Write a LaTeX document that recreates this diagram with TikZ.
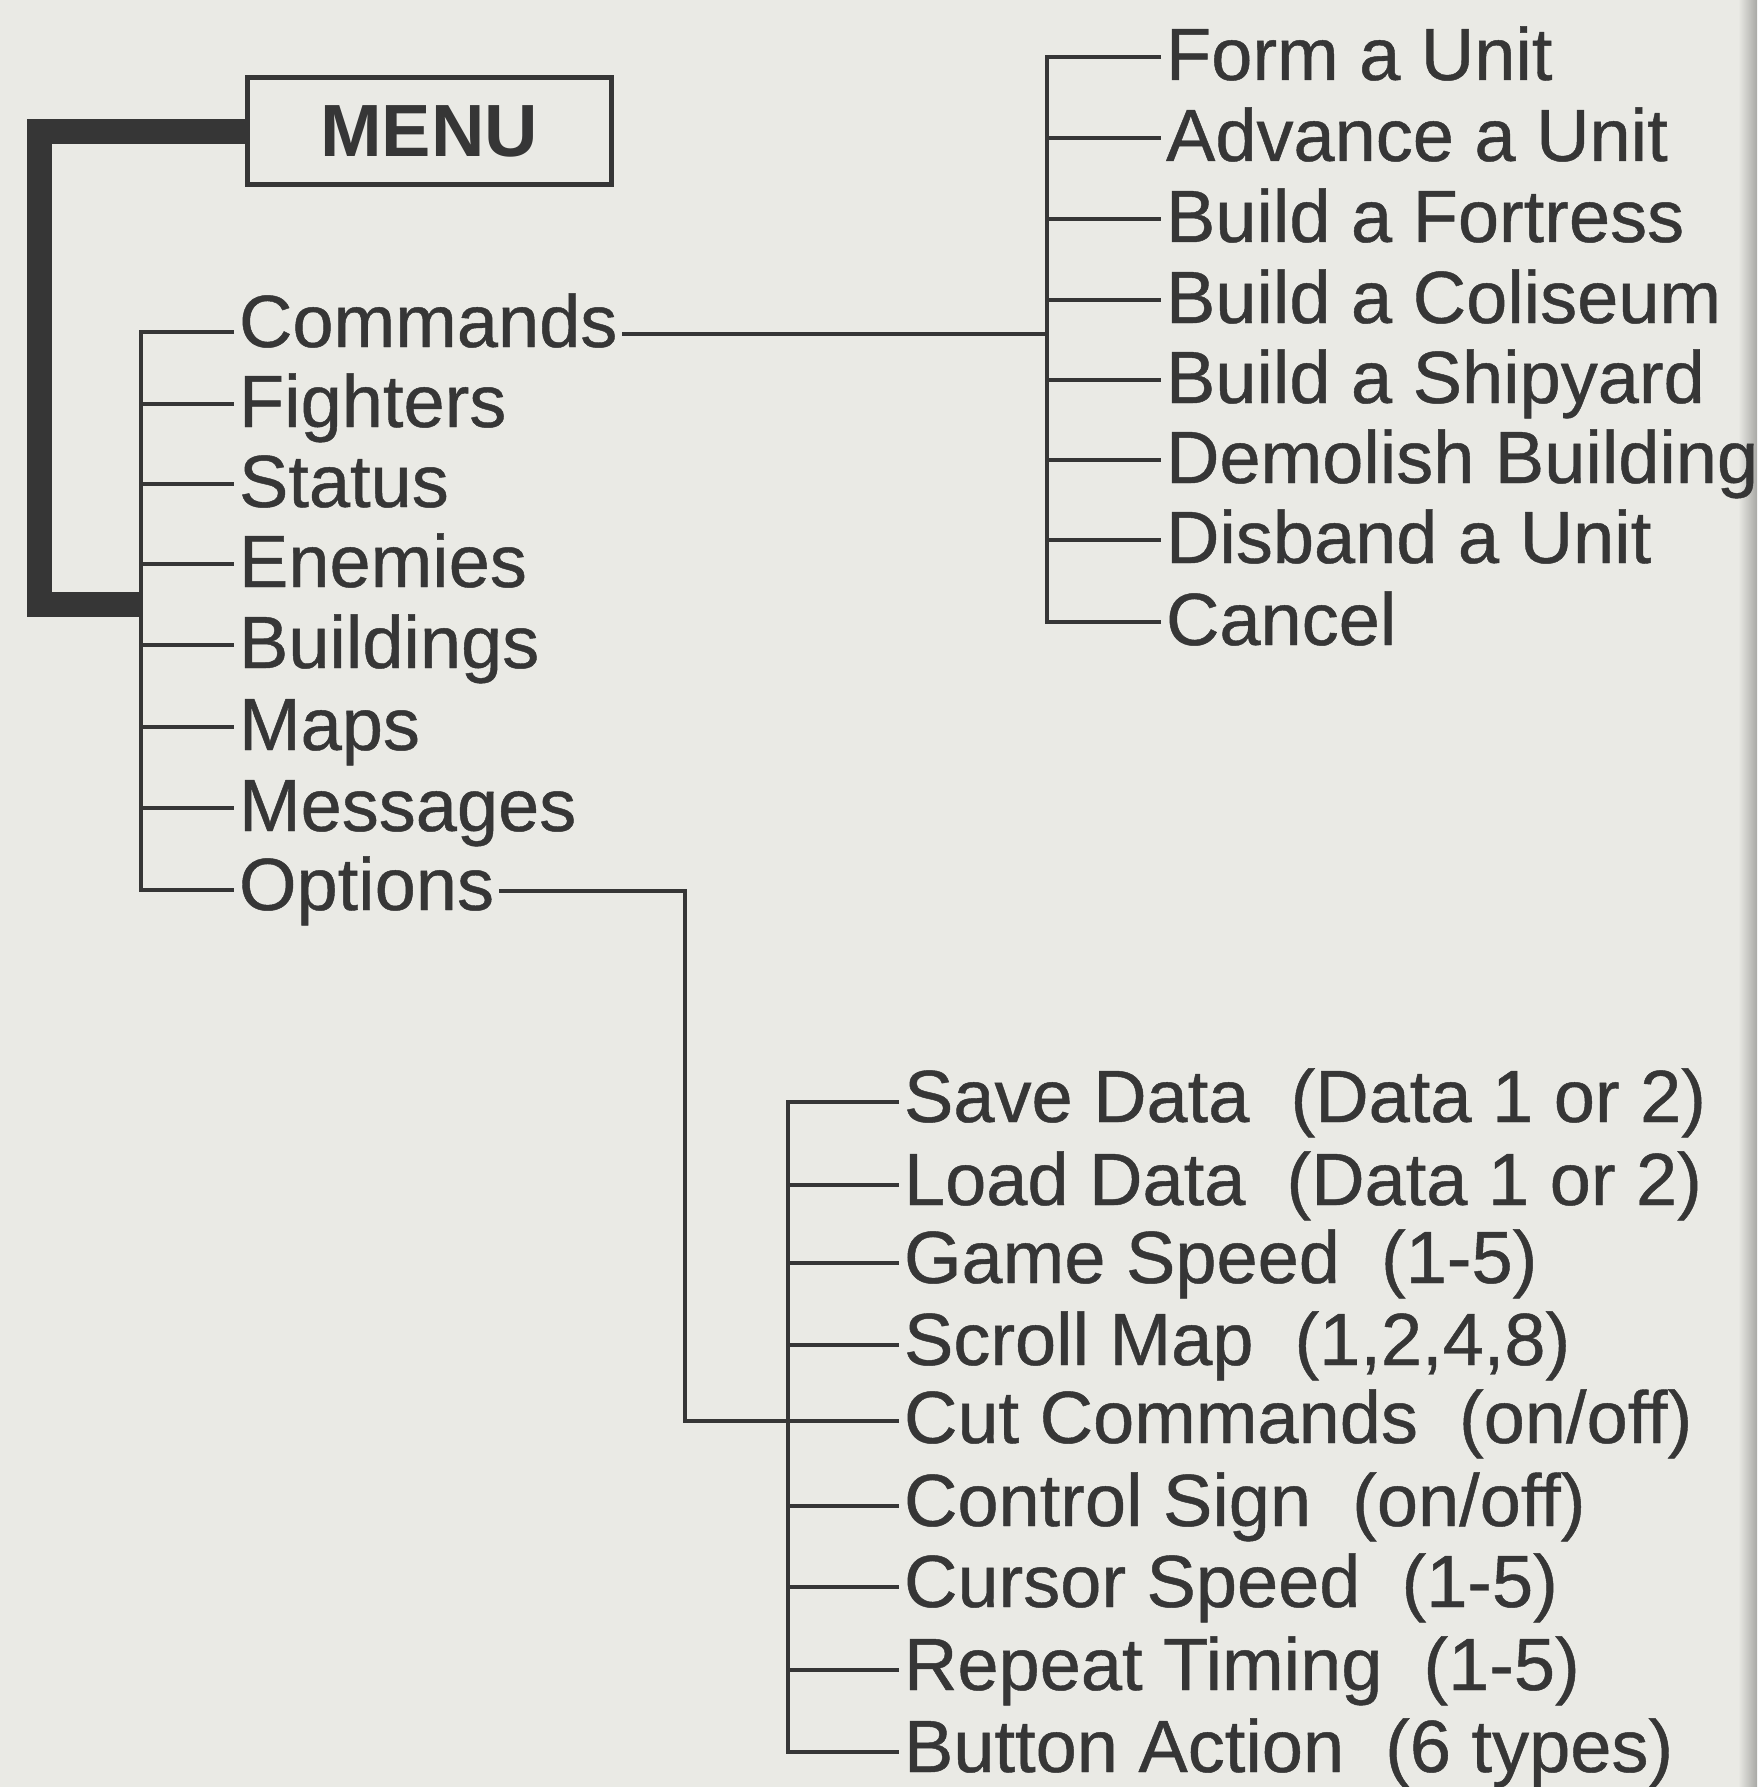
\documentclass[tikz,border=0pt]{standalone}
\usepackage{fontspec}
\setmainfont{Liberation Sans}
\newfontfamily\inkfont[FakeBold=0.6]{Liberation Sans}
\definecolor{ink}{HTML}{363636}
\definecolor{paper}{HTML}{EAEAE5}
\begin{document}
\fontsize{74}{80}\selectfont
\begin{tikzpicture}[x=1pt,y=-1pt,
  lbl/.style={anchor=base west, inner xsep=5pt, inner ysep=0pt, outer sep=0pt, text=ink,
              font=\inkfont\fontsize{74}{80}\selectfont},
  thinline/.style={draw=ink, line width=3.5pt},
  thickline/.style={draw=ink, line width=25pt, line join=miter},
  menubox/.style={draw=ink, line width=5pt, minimum width=364pt, minimum height=107pt,
              inner sep=0pt, outer sep=0pt, text=ink, font=\fontsize{74}{80}\selectfont\bfseries}]
\fill[paper] (0,0) rectangle (1757,1787);
\useasboundingbox (0,0) rectangle (1757,1787);
\shade[left color=paper, right color=paper!72!black] (1738,0) rectangle (1757,1787);

% trunk x positions
\coordinate (tK) at (39,0);
\coordinate (tL) at (141,0);
\coordinate (tR) at (1047,0);
\coordinate (oX) at (685,0);
\coordinate (tO) at (788,0);
\coordinate (kB) at (142,604);

% MENU
\node[menubox] (menu) at (429,131.5) {MENU};

% main menu items (baselines)
\node[lbl] (cmd) at (234,347) {Commands};
\node[lbl] (fig) at (234,427) {Fighters};
\node[lbl] (sta) at (234,507) {Status};
\node[lbl] (ene) at (234,587) {Enemies};
\node[lbl] (bui) at (234,668) {Buildings};
\node[lbl] (map) at (234,750) {Maps};
\node[lbl] (mes) at (234,831) {Messages};
\node[lbl] (opt) at (234,910) {Options};

% commands submenu
\node[lbl] (c1) at (1161,80)  {Form a Unit};
\node[lbl] (c2) at (1161,161) {Advance a Unit};
\node[lbl] (c3) at (1161,242) {Build a Fortress};
\node[lbl] (c4) at (1161,323) {Build a Coliseum};
\node[lbl] (c5) at (1161,403) {Build a Shipyard};
\node[lbl] (c6) at (1161,483) {Demolish Building};
\node[lbl] (c7) at (1161,563) {Disband a Unit};
\node[lbl] (c8) at (1161,645) {Cancel};

% options submenu
\node[lbl] (o1) at (899,1122) {Save Data~~(Data 1 or 2)};
\node[lbl] (o2) at (899,1205) {Load Data~~(Data 1 or 2)};
\node[lbl] (o3) at (899,1283) {Game Speed~~(1-5)};
\node[lbl] (o4) at (899,1365) {Scroll Map~~(1,2,4,8)};
\node[lbl] (o5) at (899,1443) {Cut Commands~~(on/off)};
\node[lbl] (o6) at (899,1526) {Control Sign~~(on/off)};
\node[lbl] (o7) at (899,1607) {Cursor Speed~~(1-5)};
\node[lbl] (o8) at (899,1690) {Repeat Timing~~(1-5)};
\node[lbl] (o9) at (899,1772) {Button Action~~(6 types)};

% thick bracket from MENU to main list
\draw[thickline] (menu.west) -- (menu.west -| tK) -- (tK |- kB) -- (kB);

% main list tree
\draw[thinline] ([yshift=15pt]cmd.base west) -- ([yshift=15pt]cmd.base west -| tL)
   -- ([yshift=20pt]opt.base west -| tL) -- ([yshift=20pt]opt.base west);
\foreach \n in {fig,sta,ene,bui,map,mes}
  \draw[thinline] ([yshift=23pt]\n.base west -| tL) -- ([yshift=23pt]\n.base west);

% commands submenu tree
\draw[thinline] ([yshift=13pt]cmd.base east) -- ([yshift=13pt]cmd.base east -| tR);
\draw[thinline] ([yshift=23pt]c1.base west) -- ([yshift=23pt]c1.base west -| tR)
   -- ([yshift=23pt]c8.base west -| tR) -- ([yshift=23pt]c8.base west);
\foreach \n in {c2,c3,c4,c5,c6,c7}
  \draw[thinline] ([yshift=23pt]\n.base west -| tR) -- ([yshift=23pt]\n.base west);

% options submenu tree
\draw[thinline] ([yshift=19pt]opt.base east) -- ([yshift=19pt]opt.base east -| oX)
   -- ([yshift=22pt]o5.base west -| oX) -- ([yshift=22pt]o5.base west);
\draw[thinline] ([yshift=20pt]o1.base west) -- ([yshift=20pt]o1.base west -| tO)
   -- ([yshift=20pt]o9.base west -| tO) -- ([yshift=20pt]o9.base west);
\foreach \n in {o2,o3,o4,o6,o7,o8}
  \draw[thinline] ([yshift=20pt]\n.base west -| tO) -- ([yshift=20pt]\n.base west);
\end{tikzpicture}
\end{document}
